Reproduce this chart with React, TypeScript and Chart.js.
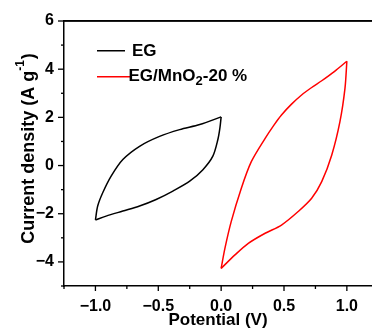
import React, { useEffect, useRef } from "react";
import { Chart, registerables } from "chart.js";

Chart.register(...registerables);

// ---- data ----
const egForward = [
  [-1.0, -2.26], [-0.982, -1.68], [-0.942, -1.13], [-0.875, -0.44], [-0.782, 0.25],
  [-0.649, 0.8], [-0.49, 1.21], [-0.33, 1.49], [-0.17, 1.7], [0.0, 2.02],
];
const egReverse = [
  [0.0, 2.02], [-0.01, 1.55], [-0.026, 1.08], [-0.066, 0.39], [-0.145, -0.17],
  [-0.25, -0.65], [-0.384, -1.06], [-0.517, -1.41], [-0.649, -1.68], [-0.782, -1.89],
  [-0.915, -2.1], [-1.0, -2.26],
];
const mnoForward = [
  [0.0, -4.27], [0.03, -3.44], [0.08, -2.33], [0.16, -0.95], [0.24, 0.16],
  [0.35, 1.13], [0.42, 1.68], [0.48, 2.1], [0.56, 2.55], [0.64, 2.93], [0.72, 3.24],
  [0.8, 3.52], [0.9, 3.9], [1.0, 4.33],
];
const mnoReverse = [
  [1.0, 4.33], [0.985, 3.2], [0.945, 1.82], [0.88, 0.44], [0.8, -0.67],
  [0.72, -1.36], [0.613, -1.91], [0.48, -2.47], [0.35, -2.81], [0.216, -3.23],
  [0.11, -3.71], [0.0, -4.27],
];

const xMin = -1.25;
const xMax = 1.2;
const yMin = -5;
const yMax = 6;
const xMajorTicks = [-1.0, -0.5, 0.0, 0.5, 1.0];
const xMinorTicks = [-1.25, -0.75, -0.25, 0.25, 0.75];
const yMajorTicks = [-4, -2, 0, 2, 4, 6];
const yMinorTicks = [-5, -3, -1, 1, 3, 5];

const seriesLabels = ["EG", "EG/MnO", "2", "-20 %"];
const xTitle = "Potential (V)";
const yTitleMain = "Current density (A g";
const yTitleSup = "-1";
const yTitleEnd = ")";

const FONT = "'Liberation Sans', Arial, sans-serif";

const toPts = (arr: number[][]) => arr.map(([x, y]) => ({ x, y }));

const fmt = (v: number, digits: number) => {
  const s = Math.abs(v).toFixed(digits);
  return v < -1e-9 ? "\u2212" + s : s;
};

const isIn = (v: number, list: number[]) => list.some((t) => Math.abs(t - v) < 1e-6);

const decorPlugin = {
  id: "decor",
  afterDraw(chart: any) {
    const { ctx, scales } = chart;
    const xs = scales.x;
    const ys = scales.y;
    ctx.save();
    ctx.fillStyle = "#000";
    const left = xs.getPixelForValue(xMin);
    const right = xs.getPixelForValue(xMax);
    const top = ys.getPixelForValue(yMax);
    const bottom = ys.getPixelForValue(yMin);
    // top frame line
    ctx.fillRect(left - 0.75, top - 0.75, right - left + 4, 1.5);
    // ticks
    const w = 1.3;
    yMajorTicks.forEach((v) => {
      const p = ys.getPixelForValue(v);
      ctx.fillRect(left - 6, p - w / 2, 6, w);
    });
    yMinorTicks.forEach((v) => {
      const p = ys.getPixelForValue(v);
      ctx.fillRect(left - 3, p - w / 2, 3, w);
    });
    xMajorTicks.forEach((v) => {
      const p = xs.getPixelForValue(v);
      ctx.fillRect(p - w / 2, bottom, w, 5);
    });
    xMinorTicks.forEach((v) => {
      const p = xs.getPixelForValue(v);
      ctx.fillRect(p - w / 2, bottom, w, 3);
    });

    // y title with superscript
    ctx.save();
    const cy = (top + bottom) / 2 - 5;
    ctx.translate(34, cy);
    ctx.rotate(-Math.PI / 2);
    ctx.textBaseline = "alphabetic";
    ctx.textAlign = "left";
    const mainFont = `bold 18px ${FONT}`;
    const supFont = `bold 12px ${FONT}`;
    ctx.font = mainFont;
    const w1 = ctx.measureText(yTitleMain).width;
    const w3 = ctx.measureText(yTitleEnd).width;
    ctx.font = supFont;
    const w2 = ctx.measureText(yTitleSup).width;
    const total = w1 + w2 + w3 + 1;
    let x0 = -total / 2;
    ctx.font = mainFont;
    ctx.fillText(yTitleMain, x0, 0);
    x0 += w1;
    ctx.font = supFont;
    ctx.fillText(yTitleSup, x0, -10);
    x0 += w2 + 1;
    ctx.font = mainFont;
    ctx.fillText(yTitleEnd, x0, 0);
    ctx.restore();

    // legend
    ctx.fillStyle = "#000";
    ctx.fillRect(97, 50, 28, 1.5);
    ctx.fillStyle = "#ff0000";
    ctx.fillRect(97, 76, 33, 1.5);
    ctx.textBaseline = "alphabetic";
    ctx.textAlign = "left";
    ctx.fillStyle = "#000";
    ctx.font = `bold 17px ${FONT}`;
    ctx.fillText(seriesLabels[0], 132, 55.5);
    let lx = 128.5;
    ctx.fillText(seriesLabels[1], lx, 80.5);
    lx += ctx.measureText(seriesLabels[1]).width;
    ctx.font = `bold 13px ${FONT}`;
    ctx.fillText(seriesLabels[2], lx, 84.5);
    lx += ctx.measureText(seriesLabels[2]).width;
    ctx.font = `bold 17px ${FONT}`;
    ctx.fillText(seriesLabels[3], lx, 80.5);
    ctx.restore();
  },
};

export default function App() {
  const ref = useRef<HTMLCanvasElement | null>(null);
  useEffect(() => {
    if (!ref.current) return;
    const ds = (data: number[][], color: string) => ({
      data: toPts(data),
      borderColor: color,
      backgroundColor: color,
      borderWidth: 1.5,
      pointRadius: 0,
      showLine: true,
      tension: 0.3,
      fill: false,
    });
    const chart = new Chart(ref.current, {
      type: "scatter",
      data: {
        datasets: [
          ds(egForward, "#000000"),
          ds(egReverse, "#000000"),
          ds(mnoForward, "#ff0000"),
          ds(mnoReverse, "#ff0000"),
        ],
      },
      options: {
        animation: false,
        responsive: false,
        devicePixelRatio: 1,
        layout: { padding: { top: 21, right: 0, left: 0, bottom: 0 } },
        plugins: { legend: { display: false }, tooltip: { enabled: false } },
        scales: {
          x: {
            type: "linear",
            min: xMin,
            max: xMax,
            afterBuildTicks: (s: any) => {
              s.ticks = [...xMinorTicks, ...xMajorTicks]
                .sort((a, b) => a - b)
                .map((value) => ({ value }));
            },
            afterFit: (s: any) => {
              s.height = 45;
            },
            grid: { display: true, drawOnChartArea: false, drawTicks: false },
            border: { display: true, color: "#000", width: 1.5 },
            ticks: {
              padding: 11,
              color: "#000",
              maxRotation: 0,
              autoSkip: false,
              font: { family: FONT, size: 16, weight: "bold" },
              callback: (v: any) => (isIn(Number(v), xMajorTicks) ? fmt(Number(v), 1) : ""),
            },
            title: {
              display: true,
              text: xTitle,
              color: "#000",
              padding: 0,
              font: { family: FONT, size: 17, weight: "bold" },
            },
          },
          xTop: {
            type: "linear",
            position: "top",
            min: xMin,
            max: xMax,
            afterFit: (s: any) => {
              s.height = 0;
            },
            grid: { display: true, drawOnChartArea: false, drawTicks: false },
            border: { display: true, color: "#000", width: 1.5 },
            ticks: { display: false },
          },
          y: {
            type: "linear",
            min: yMin,
            max: yMax,
            afterBuildTicks: (s: any) => {
              s.ticks = [...yMinorTicks, ...yMajorTicks]
                .sort((a, b) => a - b)
                .map((value) => ({ value }));
            },
            afterFit: (s: any) => {
              s.width = 64;
            },
            grid: { display: true, drawOnChartArea: false, drawTicks: false },
            border: { display: true, color: "#000", width: 1.5 },
            ticks: {
              padding: 10,
              color: "#000",
              autoSkip: false,
              font: { family: FONT, size: 16, weight: "bold" },
              callback: (v: any) => (isIn(Number(v), yMajorTicks) ? fmt(Number(v), 0) : ""),
            },
          },
        },
      },
      plugins: [decorPlugin],
    } as any);
    return () => chart.destroy();
  }, []);
  return (
    <div style={{ position: "fixed", left: 0, top: 0, width: 372, height: 331, background: "#fff" }}>
      <canvas ref={ref} width={372} height={331} style={{ width: 372, height: 331, display: "block" }} />
    </div>
  );
}
